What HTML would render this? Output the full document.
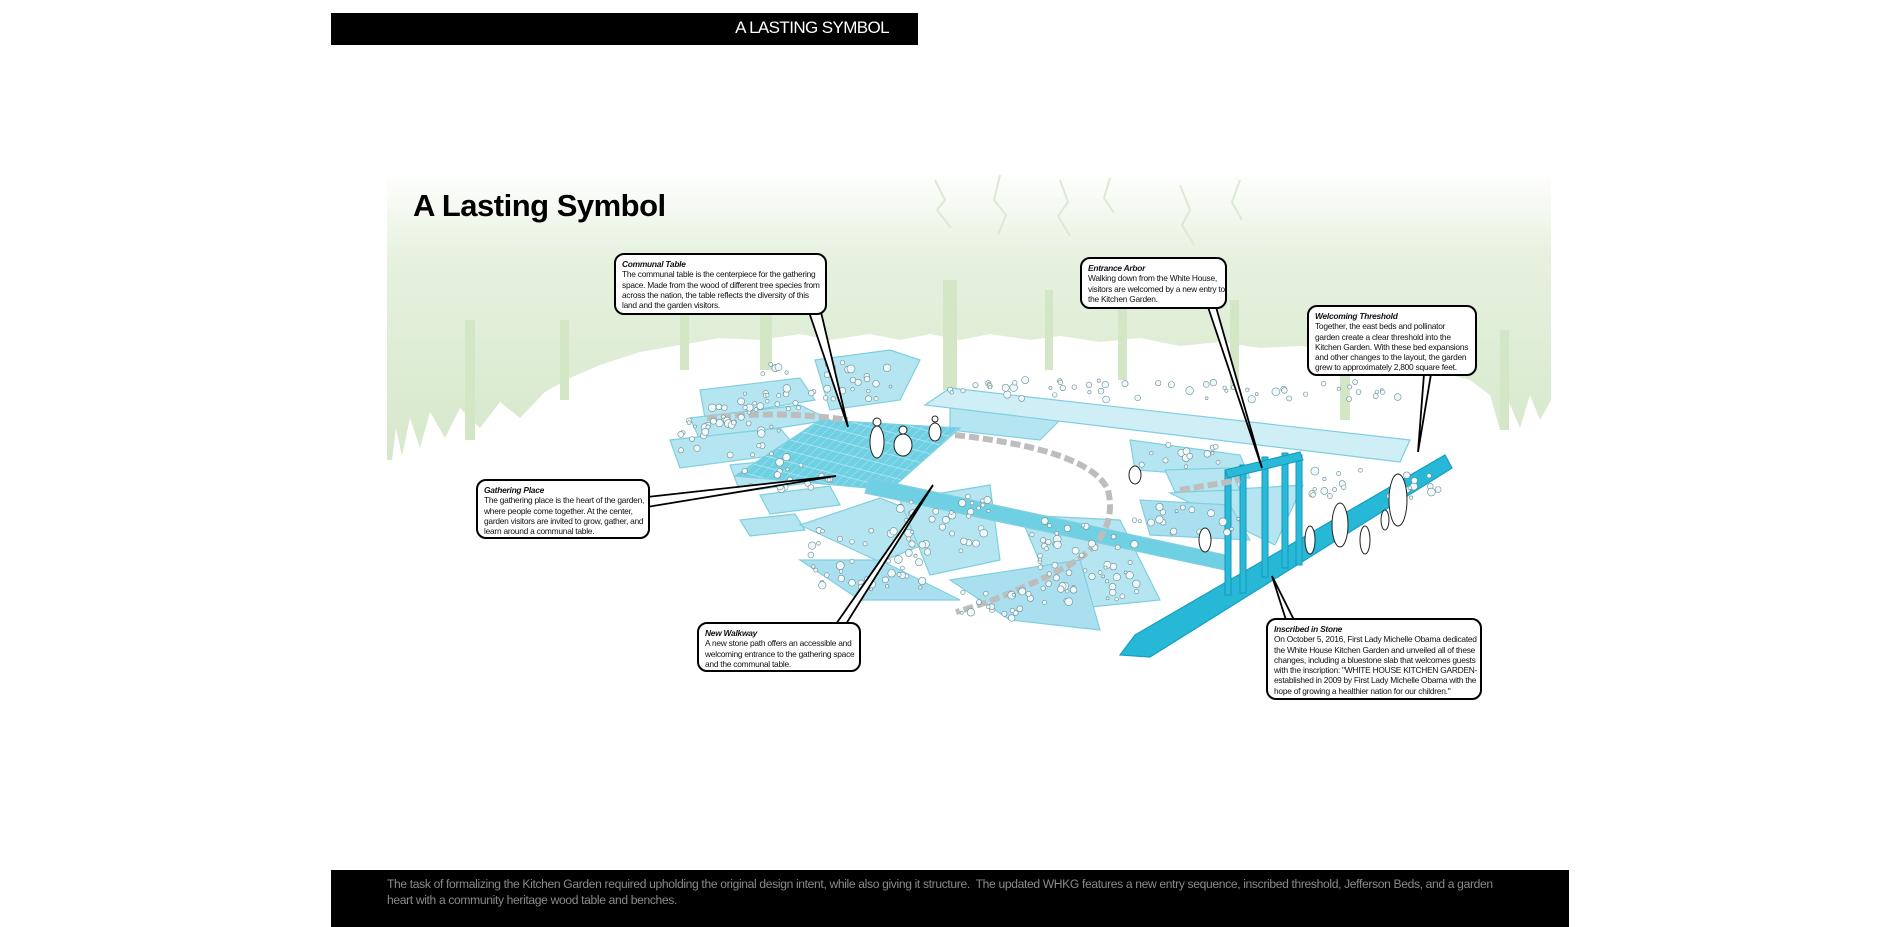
<!DOCTYPE html>
<html><head><meta charset="utf-8"><style>
html,body{margin:0;padding:0;background:#fff;}
body{width:1900px;height:927px;position:relative;overflow:hidden;font-family:"Liberation Sans",sans-serif;}
.bar{position:absolute;background:#000;}
.co{position:absolute;background:#fff;border:2px solid #000;border-radius:10px;font-size:8.4px;line-height:10.3px;color:#111;padding:4px 6px;box-sizing:border-box;letter-spacing:-0.25px;white-space:nowrap;}
.co b{font-style:italic;display:block;}
</style></head><body>
<div class="bar" style="left:331px;top:13px;width:587px;height:32px;"></div>
<div style="position:absolute;left:600px;width:289px;top:17px;text-align:right;color:#fff;font-size:17px;line-height:22px;letter-spacing:-0.6px;">A LASTING SYMBOL</div>

<svg width="1900" height="927" style="position:absolute;left:0;top:0">
<defs>
<linearGradient id="g" x1="0" y1="0" x2="0" y2="1">
<stop offset="0" stop-color="#fff"/><stop offset="0.3" stop-color="#e6f1de"/><stop offset="1" stop-color="#d6e8cb"/>
</linearGradient>
<pattern id="grid" width="9" height="9" patternUnits="userSpaceOnUse" patternTransform="skewX(-40) rotate(12)">
<rect width="9" height="9" fill="#6fd0e3"/><path d="M0 0H9M0 0V9" stroke="#bfeef6" stroke-width="1"/>
</pattern>
</defs>
<path d="M387 172 H1551 V400 L1540 420 L1530 395 L1520 428 L1508 400 L1500 430 L1490 395 L1470 380 L1440 372 L1420 360 L1380 352 L1340 350 L1300 346 L1260 348 L1220 342 L1180 346 L1140 338 L1100 342 L1060 336 L1030 340 L990 334 L960 340 L930 334 L900 340 L870 334 L830 340 L800 334 L760 340 L720 338 L680 345 L640 352 L600 365 L570 378 L545 392 L520 418 L500 402 L480 428 L460 408 L445 438 L430 412 L420 448 L410 418 L402 456 L396 428 L392 460 L387 460 Z" fill="url(#g)"/>
<!-- trunks -->
<g fill="#d3e6c6">
<rect x="465" y="320" width="10" height="120"/><rect x="560" y="320" width="9" height="80"/>
<rect x="943" y="280" width="14" height="110"/><rect x="1045" y="290" width="8" height="80"/>
<rect x="1118" y="300" width="9" height="80"/><rect x="1340" y="310" width="10" height="110"/>
<rect x="1500" y="330" width="9" height="100"/><rect x="760" y="300" width="12" height="70"/>
<rect x="1230" y="300" width="9" height="90"/><rect x="680" y="310" width="9" height="60"/>
</g>
<g fill="none" stroke="#dde9d7" stroke-width="2">
<path d="M935 180 l10 20 l-8 10 l14 18 M1000 175 l-6 25 l12 15 l-8 20 M1060 180 l8 22 l-10 14 l12 20 M1110 178 l-6 20 l10 15 M1180 185 l10 25 l-8 15 l12 20 M1240 180 l-8 22 l10 18"/>
</g>

<!-- garden -->
<g stroke="#7fcfe0" stroke-width="1.2">
<polygon points="700,390 800,378 815,400 705,418" fill="#b5e5f0"/>
<polygon points="690,418 800,405 830,420 700,440" fill="#b5e5f0"/>
<polygon points="670,440 780,428 800,452 680,468" fill="#b5e5f0"/>
<polygon points="730,465 830,455 845,478 740,492" fill="#b5e5f0"/>
<polygon points="760,495 830,486 840,505 770,514" fill="#b5e5f0"/>
<polygon points="740,520 795,514 805,530 750,536" fill="#b5e5f0"/>
<polygon points="815,360 890,350 920,360 900,400 830,410" fill="#b5e5f0"/>
<polygon points="800,525 880,498 960,530 880,562" fill="#b5e5f0"/>
<polygon points="800,560 880,560 960,600 860,600" fill="#aadff0"/>
<polygon points="950,400 1010,408 1060,420 1040,440 950,430" fill="#b5e5f0"/>
<polygon points="950,388 1410,440 1400,462 925,405" fill="#cfeef6"/>
<polygon points="1130,440 1240,455 1250,478 1135,470" fill="#b5e5f0"/>
<polygon points="1170,493 1303,485 1275,545" fill="#b5e5f0"/>
<polygon points="1140,500 1230,505 1250,540 1150,535" fill="#aadff0"/>
<polygon points="1020,515 1120,520 1160,600 1060,610" fill="#b5e5f0"/>
<polygon points="950,580 1080,560 1100,630 1010,620" fill="#aadff0"/>
<polygon points="900,500 990,485 1000,560 930,575" fill="#b5e5f0"/>
<polygon points="1165,470 1230,468 1240,490 1175,492" fill="#b5e5f0"/>
<polygon points="820,420 960,428 890,490 735,476" fill="url(#grid)"/>
<polygon points="870,478 1225,555 1225,570 865,493" fill="#6fd0e3"/>
<polygon points="1120,655 1135,635 1445,455 1452,468 1150,657" fill="#27b8d8" stroke="#149fc0"/>
</g>
<!-- arbor -->
<g fill="#2ab9d9" stroke="#1399b8" stroke-width="1">
<rect x="1225" y="470" width="6" height="125"/><rect x="1240" y="465" width="6" height="128"/>
<rect x="1262" y="457" width="6" height="120"/><rect x="1282" y="453" width="6" height="115"/>
<rect x="1296" y="455" width="6" height="110"/>
<polygon points="1225,470 1300,452 1303,460 1228,478"/>
</g>
<!-- stone path -->
<g fill="none" stroke="#bdbdbd" stroke-width="6" stroke-dasharray="10,4">
<path d="M707 418 Q780 410 848 420"/>
<path d="M955 435 Q1090 450 1108 490 Q1120 540 1060 570 Q1000 600 956 612"/>
<path d="M1180 490 L1240 480"/>
</g>
<g id="pl" fill="#eef9fc" stroke="#6c8a90" stroke-width="0.6"></g>
<g fill="#fff" stroke="#222" stroke-width="1">
<ellipse cx="877" cy="442" rx="7" ry="16"/><circle cx="877" cy="422" r="4"/>
<ellipse cx="903" cy="445" rx="9" ry="11"/><circle cx="903" cy="430" r="4"/>
<ellipse cx="935" cy="432" rx="6" ry="9"/><circle cx="935" cy="419" r="3"/>
<ellipse cx="1135" cy="475" rx="6" ry="9"/><ellipse cx="1205" cy="540" rx="6" ry="12"/>
<ellipse cx="1340" cy="525" rx="8" ry="22"/><ellipse cx="1398" cy="500" rx="9" ry="26"/>
<ellipse cx="1385" cy="520" rx="4" ry="10"/><ellipse cx="1365" cy="540" rx="5" ry="14"/>
<ellipse cx="1310" cy="540" rx="5" ry="14"/>
</g>
<g fill="#fff" stroke="#000" stroke-width="1.8">
<polygon points="809,312 848,427 821,312"/>
<polygon points="1208,307 1262,468 1216,307"/>
<polygon points="1424,374 1418,452 1431,374"/>
<polygon points="647,497 836,476 647,507"/>
<polygon points="836,624 933,485 846,624"/>
<polygon points="1286,620 1272,576 1294,620"/>
</g>
</svg>

<div style="position:absolute;left:413px;top:188px;font-size:31px;font-weight:bold;letter-spacing:-0.5px;line-height:36px;">A Lasting Symbol</div>

<div class="co" style="left:614px;top:253px;width:213px;height:62px;"><b>Communal Table</b>The communal table is the centerpiece for the gathering<br>space. Made from the wood of different tree species from<br>across the nation, the table reflects the diversity of this<br>land and the garden visitors.</div>
<div class="co" style="left:1080px;top:257px;width:147px;height:52px;"><b>Entrance Arbor</b>Walking down from the White House,<br>visitors are welcomed by a new entry to<br>the Kitchen Garden.</div>
<div class="co" style="left:1307px;top:305px;width:170px;height:71px;"><b>Welcoming Threshold</b>Together, the east beds and pollinator<br>garden create a clear threshold into the<br>Kitchen Garden. With these bed expansions<br>and other changes to the layout, the garden<br>grew to approximately 2,800 square feet.</div>
<div class="co" style="left:476px;top:479px;width:174px;height:60px;"><b>Gathering Place</b>The gathering place is the heart of the garden,<br>where people come together. At the center,<br>garden visitors are invited to grow, gather, and<br>learn around a communal table.</div>
<div class="co" style="left:697px;top:622px;width:164px;height:50px;"><b>New Walkway</b>A new stone path offers an accessible and<br>welcoming entrance to the gathering space<br>and the communal table.</div>
<div class="co" style="left:1266px;top:618px;width:216px;height:82px;"><b>Inscribed in Stone</b>On October 5, 2016, First Lady Michelle Obama dedicated<br>the White House Kitchen Garden and unveiled all of these<br>changes, including a bluestone slab that welcomes guests<br>with the inscription: "WHITE HOUSE KITCHEN GARDEN-<br>established in 2009 by First Lady Michelle Obama with the<br>hope of growing a healthier nation for our children."</div>

<div class="bar" style="left:331px;top:870px;width:1238px;height:57px;"></div>
<div style="position:absolute;left:387px;top:877px;color:#8a8a8a;font-size:12.1px;line-height:15.5px;letter-spacing:-0.35px;white-space:nowrap;">The task of formalizing the Kitchen Garden required upholding the original design intent, while also giving it structure.&nbsp; The updated WHKG features a new entry sequence, inscribed threshold, Jefferson Beds, and a garden<br>heart with a community heritage wood table and benches.</div>

<script>
(function(){
var s=7;function r(){s=(s*9301+49297)%233280;return s/233280;}
var g=document.getElementById('pl'),h='';
var areas=[[700,390,100,40],[680,420,110,40],[740,460,90,30],[950,380,450,20],[1140,445,100,25],[1030,520,110,80],[900,495,90,60],[960,585,110,35],[810,530,120,60],[1150,505,90,30],[760,360,140,40],[1310,470,130,30]];
areas.forEach(function(a){var n=Math.floor(a[2]*a[3]/160);for(var i=0;i<n;i++){var x=a[0]+r()*a[2],y=a[1]+r()*a[3],rr=1.5+r()*2.5;h+='<circle cx="'+x.toFixed(1)+'" cy="'+y.toFixed(1)+'" r="'+rr.toFixed(1)+'"/>';}});
g.innerHTML=h;
})();
</script>
</body></html>
